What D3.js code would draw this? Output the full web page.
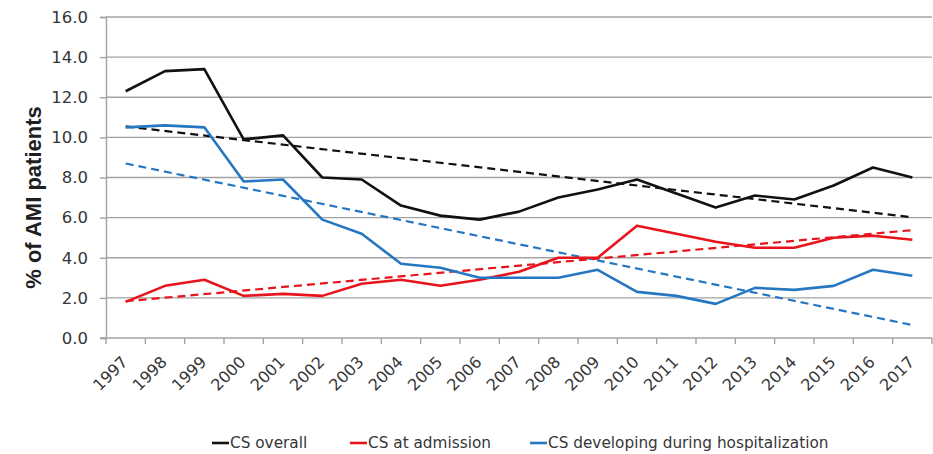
<!DOCTYPE html>
<html>
<head>
<meta charset="utf-8">
<script src="https://cdn.jsdelivr.net/npm/d3@7"></script>
<style>
  html, body { margin: 0; padding: 0; background: #fff; }
  svg { display: block; }
</style>
</head>
<body>
<svg id="chart" width="933" height="454"></svg>
<script>
// Cardiogenic shock (CS) rates among AMI patients, 1997–2017
const years = ["1997","1998","1999","2000","2001","2002","2003","2004","2005","2006","2007",
               "2008","2009","2010","2011","2012","2013","2014","2015","2016","2017"];
const csOverall = [12.3, 13.3, 13.4, 9.9, 10.1, 8.0, 7.9, 6.6, 6.1, 5.9, 6.3,
                   7.0, 7.4, 7.9, 7.2, 6.5, 7.1, 6.9, 7.6, 8.5, 8.0];
const csAdmission = [1.8, 2.6, 2.9, 2.1, 2.2, 2.1, 2.7, 2.9, 2.6, 2.9, 3.3,
                     4.0, 4.0, 5.6, 5.2, 4.8, 4.5, 4.5, 5.0, 5.1, 4.9];
const csHospitalization = [10.5, 10.6, 10.5, 7.8, 7.9, 5.9, 5.2, 3.7, 3.5, 3.0, 3.0,
                           3.0, 3.4, 2.3, 2.1, 1.7, 2.5, 2.4, 2.6, 3.4, 3.1];
const seriesNames = ["CS overall", "CS at admission", "CS developing during hospitalization"];
const yTickValues = [0, 2, 4, 6, 8, 10, 12, 14, 16];
const yTitle = "% of AMI patients";

const colors = ["#111111", "#e8141c", "#2577c2"];
const seriesValues = [csOverall, csAdmission, csHospitalization];

const svg = d3.select("#chart");
const plot = { left: 106, right: 932, top: 17, bottom: 338 };
const gridColor = "#a3a3a3";
const textColor = "#363636";
const tickFont = "'DejaVu Sans', sans-serif";

const x = d3.scaleBand().domain(years).range([plot.left, plot.right]);
const cx = d => x(d) + x.bandwidth() / 2;
const y = d3.scaleLinear().domain([0, 16]).range([plot.bottom, plot.top]);

// Horizontal gridlines
svg.append("g")
  .selectAll("line")
  .data(yTickValues.filter(v => v > 0))
  .join("line")
  .attr("x1", plot.left).attr("x2", plot.right)
  .attr("y1", d => y(d)).attr("y2", d => y(d))
  .attr("stroke", gridColor).attr("stroke-width", 1.4);

// Y axis
const yAxis = svg.append("g")
  .attr("transform", `translate(${plot.left},0)`)
  .call(d3.axisLeft(y).tickValues(yTickValues).tickFormat(d3.format(".1f")).tickSize(6).tickPadding(12));
yAxis.select(".domain").attr("stroke", gridColor).attr("stroke-width", 1.4);
yAxis.selectAll(".tick line").attr("stroke", gridColor).attr("stroke-width", 1.4);
yAxis.selectAll(".tick text")
  .attr("fill", textColor).style("font-family", tickFont).style("font-size", "16.5px");

// X axis: baseline with ticks between categories
const xAxis = svg.append("g");
xAxis.append("line")
  .attr("x1", plot.left - 6).attr("x2", plot.right)
  .attr("y1", plot.bottom).attr("y2", plot.bottom)
  .attr("stroke", gridColor).attr("stroke-width", 1.4);
const boundaries = years.map(d => x(d)).concat([x.range()[1]]);
xAxis.selectAll("line.tick")
  .data(boundaries)
  .join("line")
  .attr("class", "tick")
  .attr("x1", d => d).attr("x2", d => d)
  .attr("y1", plot.bottom).attr("y2", plot.bottom + 6)
  .attr("stroke", gridColor).attr("stroke-width", 1.4);
xAxis.selectAll("text")
  .data(years)
  .join("text")
  .attr("transform", d => `translate(${cx(d) + 3},${plot.bottom + 25}) rotate(-45)`)
  .attr("text-anchor", "end")
  .attr("fill", textColor)
  .style("font-family", tickFont)
  .style("font-size", "16px")
  .text(d => d);

// Y axis title
svg.append("text")
  .attr("transform", `translate(41,${(plot.top + plot.bottom) / 2 + 20}) rotate(-90)`)
  .attr("text-anchor", "middle")
  .attr("fill", "#1f1f1f")
  .style("font-family", "'Liberation Sans', Arial, sans-serif")
  .style("font-weight", "bold")
  .style("font-size", "22px")
  .text(yTitle);

// Least-squares linear trend for a series
function linearTrend(values) {
  const n = values.length;
  const mx = d3.mean(values, (v, i) => i);
  const my = d3.mean(values);
  let sxy = 0, sxx = 0;
  values.forEach((v, i) => { sxy += (i - mx) * (v - my); sxx += (i - mx) * (i - mx); });
  const slope = sxy / sxx;
  return [0, n - 1].map(i => ({ year: years[i], value: my + slope * (i - mx) }));
}

const line = d3.line().x(d => cx(d.year)).y(d => y(d.value));

const seriesData = seriesValues.map((vals, k) => ({
  name: seriesNames[k],
  color: colors[k],
  points: vals.map((v, i) => ({ year: years[i], value: v })),
  trend: linearTrend(vals)
}));

// Dashed trend lines
svg.append("g")
  .selectAll("path")
  .data(seriesData)
  .join("path")
  .attr("d", d => line(d.trend))
  .attr("fill", "none")
  .attr("stroke", d => d.color)
  .attr("stroke-width", 2.2)
  .attr("stroke-dasharray", "8,5");

// Solid series lines
svg.append("g")
  .selectAll("path")
  .data(seriesData)
  .join("path")
  .attr("d", d => line(d.points))
  .attr("fill", "none")
  .attr("stroke", d => d.color)
  .attr("stroke-width", 2.6)
  .attr("stroke-linejoin", "round");

// Legend
const legendX = [212, 350, 530];
const legend = svg.append("g").selectAll("g")
  .data(seriesData)
  .join("g")
  .attr("transform", (d, i) => `translate(${legendX[i]},443)`);
legend.append("line")
  .attr("x1", 0).attr("x2", 17)
  .attr("stroke", d => d.color).attr("stroke-width", 2.6);
legend.append("text")
  .attr("x", 18).attr("dy", "0.35em")
  .attr("fill", textColor)
  .style("font-family", tickFont)
  .style("font-size", "15.3px")
  .text(d => d.name);
</script>
</body>
</html>
